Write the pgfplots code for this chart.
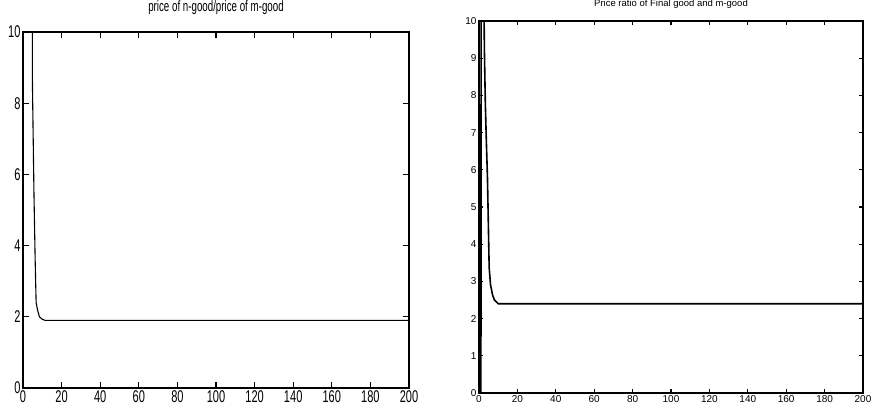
\documentclass[border=0pt]{standalone}
\usepackage{fontspec}
\setmainfont{Liberation Sans}
\newfontfamily\condfont[FakeStretch=0.65]{Liberation Sans}
\usepackage{pgfplots}
\pgfplotsset{compat=1.18}
\begin{document}
\begin{tikzpicture}
\path[use as bounding box] (0,0) rectangle (873pt,413pt);
\begin{axis}[at={(23pt,25pt)}, anchor=south west, scale only axis,
  width=386pt, height=356pt,
  xmin=0, xmax=200, ymin=0, ymax=10,
  xtick={0,20,...,200}, ytick={0,2,...,10},
  tick align=inside, major tick length=6pt,
  axis line style={line width=1.1pt}, tick style={line width=1.1pt, black},
  /pgf/number format/assume math mode=true,
  ticklabel style={font=\condfont\fontsize{17}{17}\selectfont},
  xticklabel style={yshift=1pt},
  yticklabel style={xshift=1pt},
  title={price of n-good/price of m-good},
  title style={font=\condfont\fontsize{15}{15}\selectfont, at={(0.5,1)}, anchor=center, yshift=18pt},
]
\addplot[black, line width=1.1pt] coordinates {
(4.7,12) (4.85,10) (4.9,8.5) (5.7,5.4) (6.3,3.6) (6.8,2.4) (7.5,2.2) (8.5,2.0) (10,1.93) (11.5,1.9) (200,1.9)
};
\end{axis}
\begin{axis}[at={(479pt,20pt)}, anchor=south west, scale only axis,
  width=384pt, height=372pt,
  xmin=0, xmax=200, ymin=0, ymax=10,
  xtick={0,20,...,200}, ytick={0,1,...,10},
  tick align=inside, major tick length=4pt,
  axis line style={line width=1.2pt}, tick style={line width=1.2pt, black},
  /pgf/number format/assume math mode=true,
  ticklabel style={font=\fontsize{10}{10}\selectfont},
  xticklabel style={yshift=1pt},
  yticklabel style={xshift=1pt},
  title={Price ratio of Final good and m-good},
  title style={font=\fontsize{9.5}{9.5}\selectfont, at={(0.5,1)}, anchor=center, yshift=11pt},
]
\addplot[black, line width=1.6pt] coordinates {
(1,0) (1.1,12) (2.5,11) (2.8,9.24) (3.3,7.77) (3.9,6.64) (4.4,5.8) (5.3,3.37) (6.0,2.91) (7,2.65) (8,2.5) (10,2.4) (200,2.4)
};
\end{axis}
\end{tikzpicture}
\end{document}
